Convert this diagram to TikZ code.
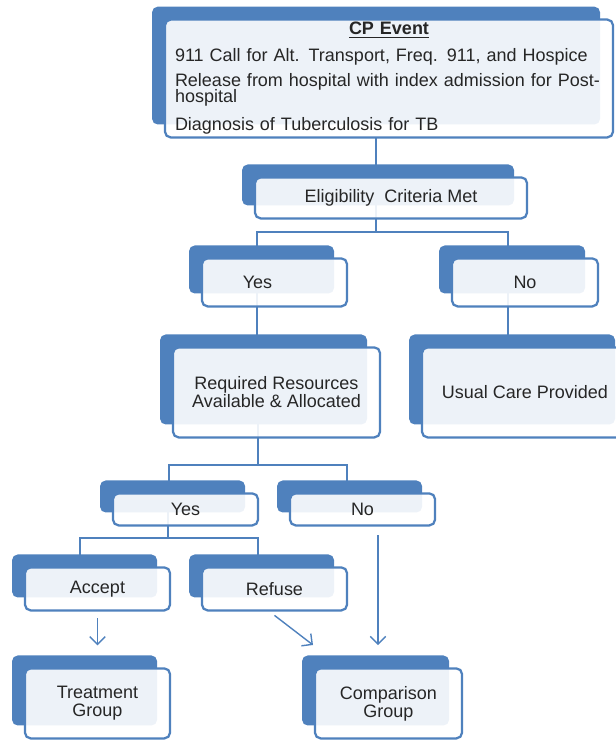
\documentclass[tikz,border=0pt]{standalone}
\usepackage{fontspec}
\setmainfont{Liberation Sans}
\usepackage{tikz}
\usetikzlibrary{positioning, shadows, arrows.meta, backgrounds}
\definecolor{cpblue}{RGB}{79,129,189}
\tikzstyle{smartbox} = [rectangle, rounded corners=4pt, draw=cpblue, line width=1.6pt, fill=white, fill opacity=0.9, text opacity=1, text=black!85, font=\fontsize{12.8}{12.8}\selectfont, align=center, inner sep=2pt, outer sep=0pt, copy shadow={shadow xshift=-9.2pt, shadow yshift=9.2pt, fill=cpblue, draw=none, fill opacity=1}]
\tikzstyle{conn} = [draw=cpblue, line width=1.8pt]
\tikzstyle{arrow} = [draw=cpblue, line width=1pt, ->, >={Straight Barb[length=5.5pt,width=11pt]}]
\begin{document}
\begin{tikzpicture}
		\useasboundingbox (0,0) rectangle (15.375,-18.5);
		\node (cp) [smartbox, minimum width=11.2cm, minimum height=2.925cm, text width=10.7cm, align=left, inner xsep=0.25cm, font={\fontsize{12.8}{12}\selectfont\lineskiplimit=-20pt}] at (9.725,-1.9625) {\makebox[10.7cm]{\textbf{\underline{CP Event}}}\\[7.2pt]
			911 Call for Alt. Transport, Freq. 911, and Hospice\\[5.1pt]
			\makebox[10.7cm][s]{Release from hospital with index admission for Post-}\\
			hospital\\[7.9pt]
			Diagnosis of Tuberculosis for TB};
		\node (elig) [smartbox, below=1cm of cp, xshift=0.05cm, minimum width=6.8cm, minimum height=1.025cm] {Eligibility~ Criteria Met};
		\node (yes1) [smartbox, below=1cm of elig, xshift=-2.9125cm, minimum width=3.625cm, minimum height=1.2cm] {Yes\hspace*{0.85cm}};
		\node (no1) [smartbox, right=2.625cm of yes1, minimum width=3.65cm, minimum height=1.2cm] {No};
		\node (req) [smartbox, below=1.025cm of yes1, xshift=0.05cm, minimum width=5.175cm, minimum height=2.25cm] {Required Resources\\Available \& Allocated};
		\node (usual) [smartbox, right=1.05cm of req, minimum width=5.15cm, minimum height=2.25cm] {Usual Care Provided};
		\node (yes2) [smartbox, below=1.4cm of req, xshift=-2.275cm, minimum width=3.625cm, minimum height=0.8cm] {Yes};
		\node (no2) [smartbox, right=0.8cm of yes2, minimum width=3.625cm, minimum height=0.8cm] {No};
		\node (accept) [smartbox, below=1.05cm of yes2, xshift=-2.2cm, minimum width=3.625cm, minimum height=1.075cm] {Accept};
		\node (refuse) [smartbox, right=0.8cm of accept, minimum width=3.625cm, minimum height=1.075cm] {Refuse};
		\node (treat) [smartbox, below=1.45cm of accept, minimum width=3.625cm, minimum height=1.75cm] {Treatment\\Group};
		\node (comp) [smartbox, right=3.625cm of treat, minimum width=3.675cm, minimum height=1.75cm] {Comparison\\Group};
		\coordinate (ja) at (9.4,-5.8);
		\coordinate (jal) at (6.425,-5.8);
		\coordinate (jar) at (12.7,-5.8);
		\coordinate (jb) at (6.45,-11.625);
		\coordinate (jbl) at (4.225,-11.625);
		\coordinate (jbr) at (8.675,-11.625);
		\coordinate (jc) at (4.2,-13.45);
		\coordinate (jcl) at (2.0,-13.45);
		\coordinate (jcr) at (6.45,-13.45);
		\coordinate (ka) at (9.45,-16.125);
		\coordinate (kb) at (7.825,-16.125);
		\begin{scope}[on background layer]
			\draw [conn] (cp.south -| ja) -- (elig.north -| ja);
			\draw [conn] (elig.center -| ja) -- (ja);
			\draw [conn] (yes1.north -| jal) -- (jal) -- (jar) -- (no1.north -| jar);
			\draw [conn] (yes1.center -| jal) -- (req.north -| jal);
			\draw [conn] (no1.center -| jar) -- (usual.north -| jar);
			\draw [conn] (req.center -| jb) -- (jb);
			\draw [conn] (yes2.north -| jbl) -- (jbl) -- (jbr) -- (no2.north -| jbr);
			\draw [conn] (yes2.center -| jc) -- (jc);
			\draw [conn] (accept.north -| jcl) -- (jcl) -- (jcr) -- (refuse.north -| jcr);
		\end{scope}
		\draw [arrow, shorten <=0.2cm, shorten >=0.575cm] (accept) -- (treat);
		\draw [arrow] ([yshift=-0.125cm]refuse.south) -- (kb);
		\draw [arrow, shorten <=0.25cm] (no2.south -| ka) -- (ka);
	\end{tikzpicture}
\end{document}
